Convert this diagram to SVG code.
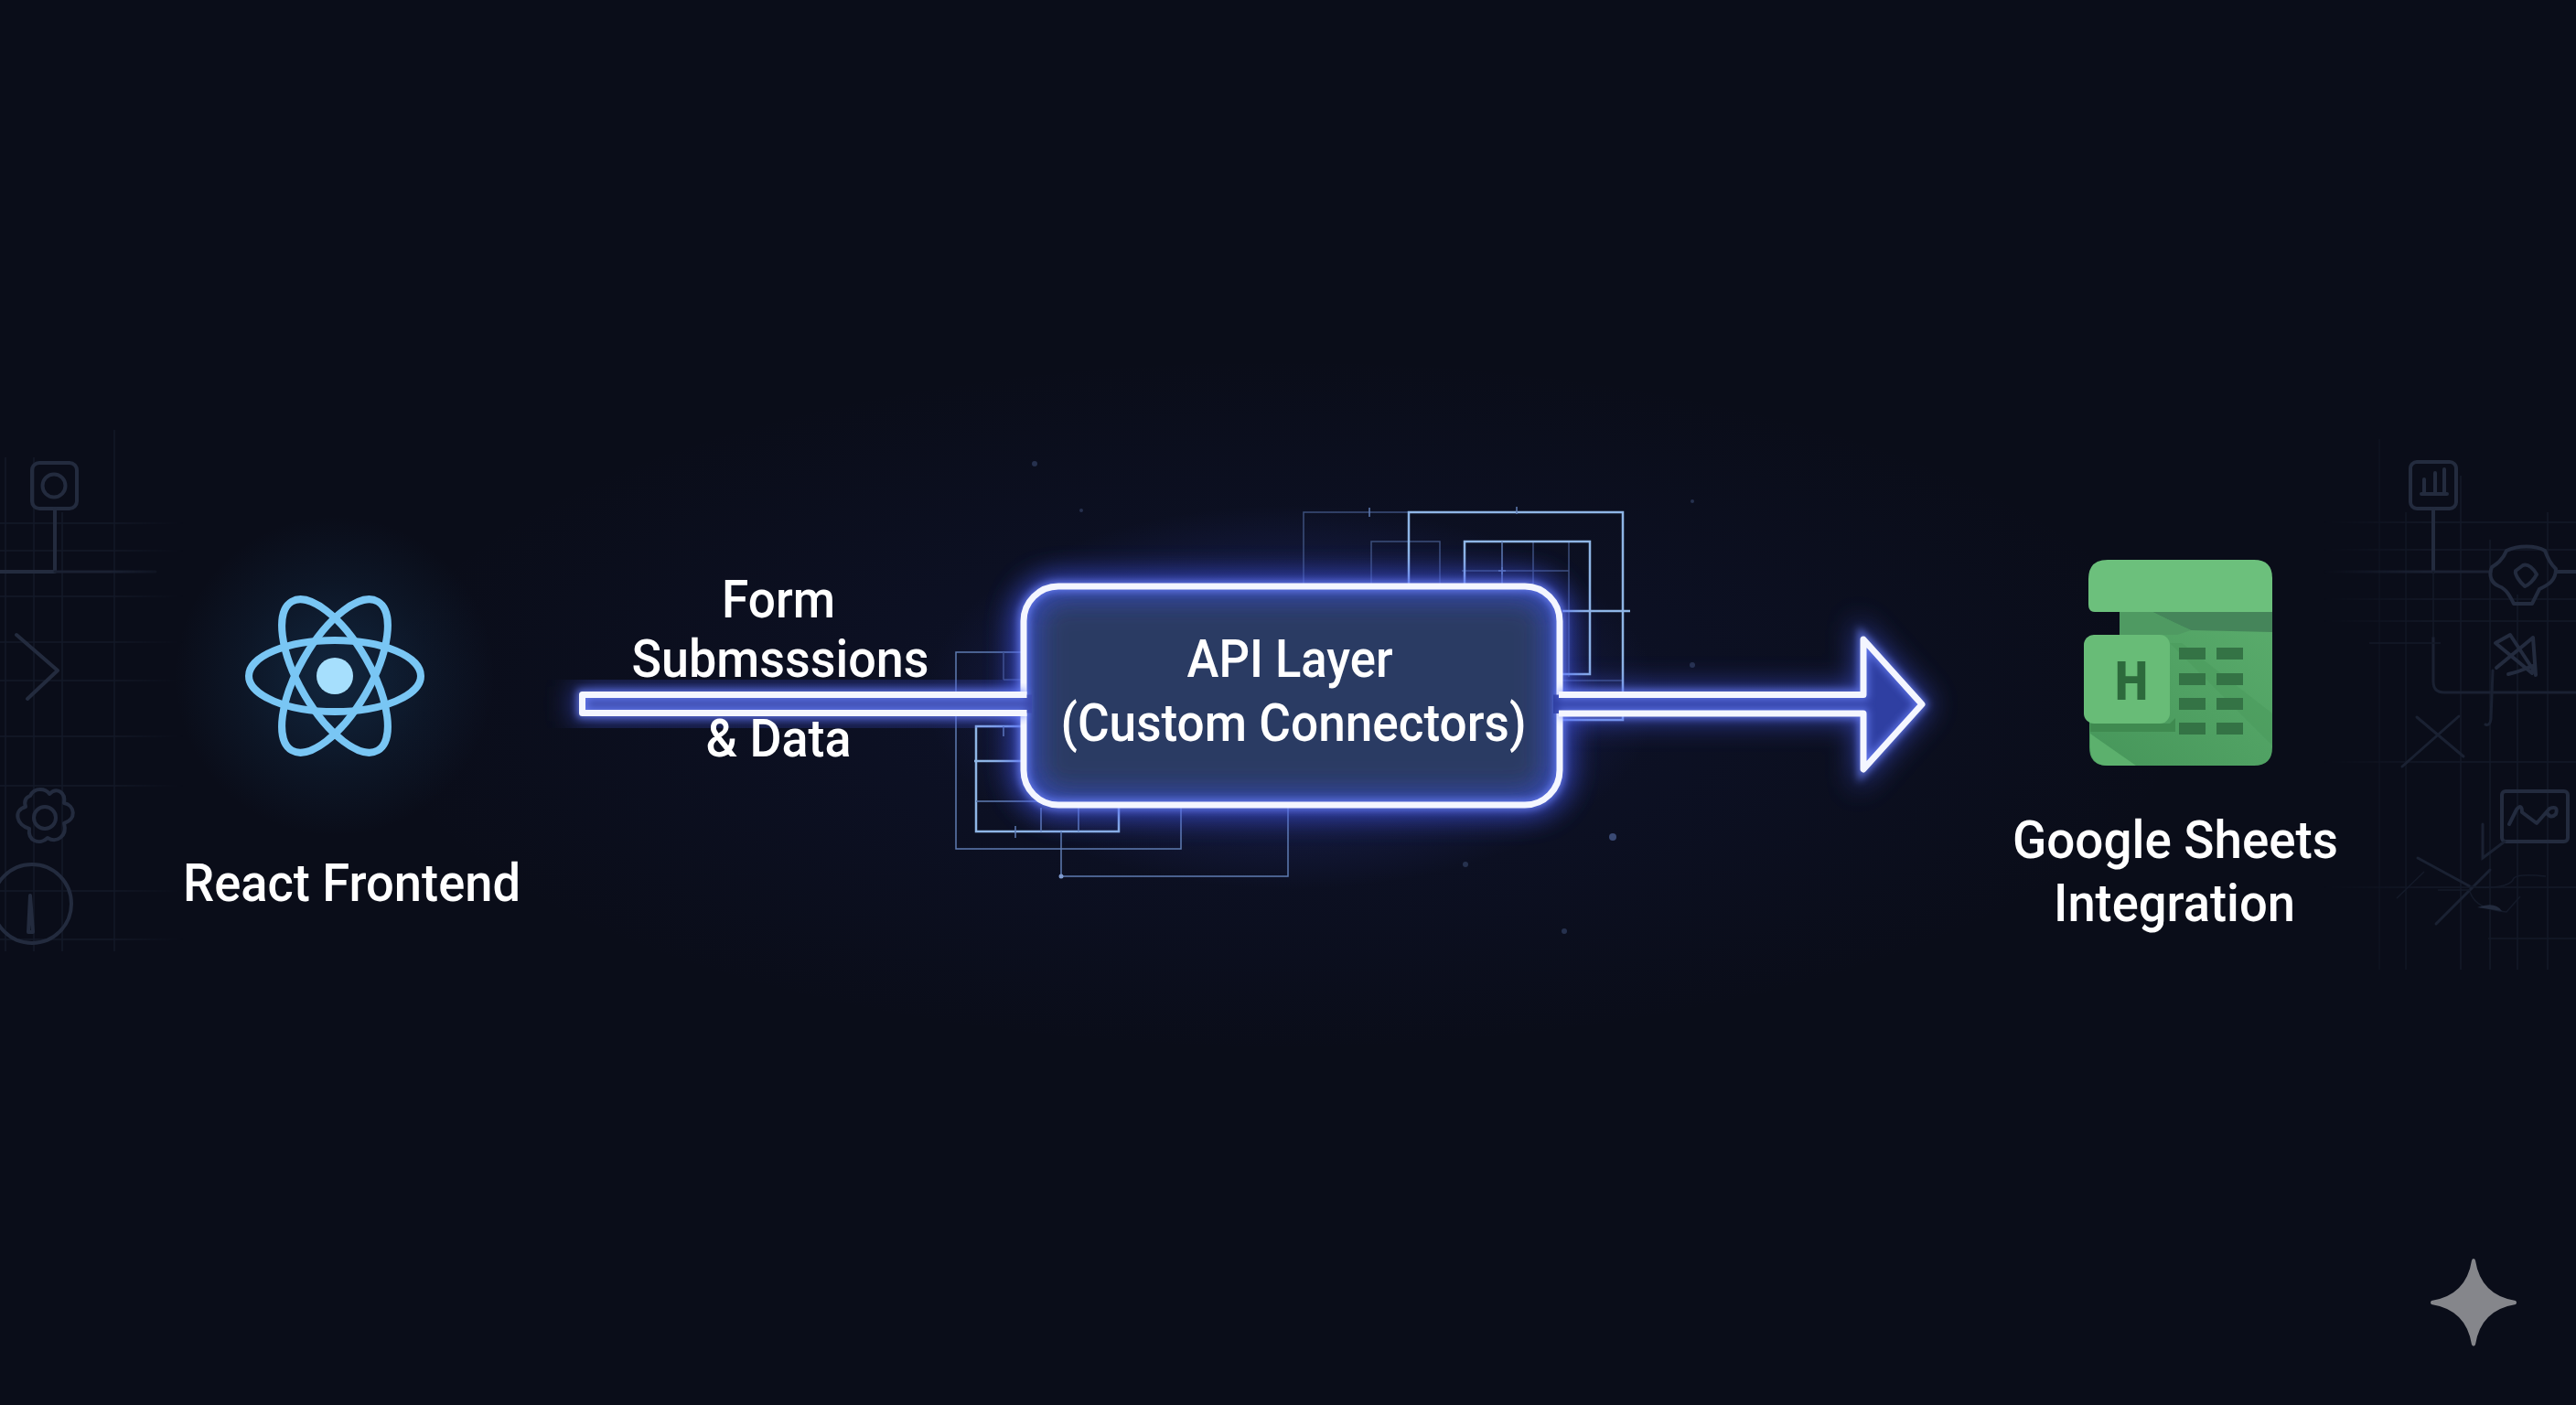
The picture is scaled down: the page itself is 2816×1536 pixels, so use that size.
<svg xmlns="http://www.w3.org/2000/svg" width="2816" height="1536" viewBox="0 0 2816 1536">
<style>
.lbl{font-family:Roboto,"Liberation Sans",sans-serif;font-size:58px;font-weight:500;fill:#fff;text-anchor:middle}
.bg{fill:none;stroke:#232b3e;stroke-width:4;stroke-linecap:round;stroke-linejoin:round}
.bgt{fill:none;stroke:#1a2132;stroke-width:3;stroke-linecap:round}
.grid{fill:none;stroke:#141a29;stroke-width:1.5}
.c1{fill:none;stroke:#8fb6e6;stroke-width:2.5}
.c2{fill:none;stroke:#5f7cb2;stroke-width:1.5}
.c3{fill:none;stroke:#3d4f7c;stroke-width:1.5}
.edge{fill:none;stroke:#f4f6ff;stroke-width:7;stroke-linejoin:round}
.react{fill:none;stroke:#79c6f4;stroke-width:8}
.cell{fill:#347345}
</style>
<defs>
<radialGradient id="gc"><stop offset="0" stop-color="#2a3cb0" stop-opacity=".12"/><stop offset="1" stop-color="#2a3cb0" stop-opacity="0"/></radialGradient>
<radialGradient id="gr"><stop offset="0" stop-color="#2b78b8" stop-opacity=".24"/><stop offset=".6" stop-color="#2b78b8" stop-opacity=".08"/><stop offset="1" stop-color="#2b78b8" stop-opacity="0"/></radialGradient>
<radialGradient id="gn"><stop offset="0" stop-color="#4a5cff" stop-opacity=".42"/><stop offset=".62" stop-color="#4a5cff" stop-opacity=".3"/><stop offset="1" stop-color="#4a5cff" stop-opacity="0"/></radialGradient>
<linearGradient id="body" x1="1" y1="0" x2="0" y2="1"><stop offset="0" stop-color="#5aac6c"/><stop offset="1" stop-color="#46965a"/></linearGradient>
<linearGradient id="fl" x1="0" y1="0" x2="1" y2="0"><stop offset="0" stop-color="#fff"/><stop offset=".6" stop-color="#fff"/><stop offset="1" stop-color="#000"/></linearGradient>
<linearGradient id="fr" x1="0" y1="0" x2="1" y2="0"><stop offset="0" stop-color="#000"/><stop offset=".4" stop-color="#fff"/><stop offset="1" stop-color="#fff"/></linearGradient>
<mask id="ml" maskUnits="userSpaceOnUse" x="0" y="460" width="200" height="620"><rect x="0" y="460" width="200" height="620" fill="url(#fl)"/></mask>
<mask id="mr" maskUnits="userSpaceOnUse" x="2540" y="460" width="276" height="620"><rect x="2540" y="460" width="276" height="620" fill="url(#fr)"/></mask>
<filter id="glow" x="-30%" y="-80%" width="160%" height="260%"><feGaussianBlur stdDeviation="15"/></filter>
<filter id="glow2" x="-30%" y="-60%" width="160%" height="220%"><feGaussianBlur stdDeviation="4"/></filter>
<filter id="inner" x="-10%" y="-20%" width="120%" height="140%"><feGaussianBlur stdDeviation="14"/></filter>
<path id="arrowR" d="M1704 759.500H2037V699L2101 770L2037 841V780H1704"/>
<clipPath id="nodeclip"><rect x="1119" y="641" width="586" height="239" rx="38"/></clipPath>
</defs>
<rect width="2816" height="1536" fill="#0a0d19"/>
<ellipse cx="1400" cy="770" rx="1000" ry="380" fill="url(#gc)"/>
<ellipse cx="1412" cy="762" rx="400" ry="210" fill="url(#gn)" opacity=".42"/>
<ellipse cx="366" cy="739" rx="175" ry="175" fill="url(#gr)"/>

<g id="left-decor">
<path class="grid" mask="url(#ml)" d="M6 500V1040M37 500V1040M68 560V1040M125 470V1040M0 572H200M0 602H200M0 652H200M0 702H200M0 744H200M0 805H200M0 859H200M0 974H200M0 1027H200"/>
<rect class="bg" x="35" y="506" width="49" height="50" rx="8"/>
<circle class="bg" cx="59" cy="531" r="12.500"/>
<path class="bg" d="M60 556V625H0"/>
<path class="bgt" mask="url(#ml)" d="M60 625H170"/>
<path class="bg" d="M18 694L63 733L30 764"/>
<path class="bg" d="M33 870C38 860 50 862 54 868C62 860 72 866 70 878C82 880 84 896 70 900C74 914 62 922 52 916C44 924 30 920 32 906C18 902 14 886 28 882C26 876 28 872 33 870Z"/>
<circle class="bg" cx="49" cy="894" r="12"/>
<ellipse class="bg" cx="35" cy="988" rx="43" ry="43"/>
<path class="bg" stroke-width="3" d="M33 979L31 1019H36Z"/>
</g>

<g id="right-decor">
<path class="grid" mask="url(#mr)" d="M2601 480V1060M2630 560V1060M2690 520V1060M2722 590V1060M2752 650V1060M2785 560V1060M2540 571H2816M2540 601H2816M2540 655H2816M2540 679H2816M2540 833H2816M2540 970H2816M2720 1026H2816"/>
<rect class="bg" x="2635" y="505" width="50" height="51" rx="7"/>
<path class="bg" stroke-width="3" d="M2647 540H2675M2650 538V524M2662 538V517M2672 538V513"/>
<path class="bg" d="M2660 556V625"/>
<path class="bgt" mask="url(#mr)" d="M2540 625H2723"/>
<path class="bg" d="M2794 625H2816"/>
<path class="bgt" d="M2660 697V745Q2660 757 2672 757H2816"/>
<path class="grid" d="M2660 625V697M2590 703H2668"/>
<path class="bg" d="M2740 602C2752 596 2772 596 2782 602C2786 612 2788 616 2794 622C2794 636 2784 640 2776 644C2772 652 2770 656 2768 660H2748C2744 652 2740 644 2732 641C2724 638 2720 630 2724 620C2730 616 2736 612 2740 602Z"/>
<path class="bg" d="M2758 618C2764 616 2770 622 2773 628C2770 634 2764 640 2760 641C2754 636 2749 628 2750 624Z"/>
<path class="bg" d="M2728 703L2744 694L2771 735M2728 703L2768 736M2769 697L2729 730M2769 697L2772 738M2742 737Q2752 735 2768 728"/>
<path class="bgt" d="M2725 733L2723 786Q2722 794 2717 792"/>
<path class="bgt" d="M2642 784L2693 827M2688 783L2626 838"/>
<rect class="bg" x="2735" y="865" width="72" height="55" rx="4"/>
<path class="bgt" d="M2738 920L2714 938V901"/>
<path class="bg" d="M2743 901L2751 885Q2757 878 2757 888L2773 900L2787 884Q2797 880 2794 890Q2788 896 2784 888"/>
<path class="bgt" stroke-width="2.500" d="M2643 938L2700 969M2722 951L2663 1010"/>
<path class="grid" stroke-width="2" d="M2650 953L2620 982M2700 969C2720 972 2745 970 2748 960C2752 956 2765 956 2783 958M2665 973H2700M2700 975C2705 990 2720 995 2740 997L2755 980"/>
<path d="M2708 992Q2728 985 2735 996Z" fill="#232b3e"/>
</g>

<g id="circuits">
<path class="c3" d="M1425 638V560H1540M1499 638V592H1574V638M1676 592V638M1715 592V740M1598 624H1715M1708 744H1774"/>
<path class="c1" d="M1540 638V560H1774V787H1708"/>
<path class="c1" d="M1601 638V592H1738V737H1708"/>
<path class="c2" d="M1642 592V638"/>
<path class="c1" d="M1708 668H1782"/>
<path class="c2" d="M1638 624H1646M1642 620V628M1497 555V565M1658 554V562"/>
<path class="c2" d="M1116 713H1045V928H1291V883"/>
<path class="c1" d="M1116 794H1067V909H1223V883"/>
<path class="c1" d="M1065 832H1116"/>
<path class="c2" d="M1067 876H1136M1138 883V909M1179 883V909M1160 909V958H1408V883M1097 794V805M1110 903V916"/>
<path class="c3" d="M1097 743V713M1097 743H1116"/>
<circle cx="1160" cy="958" r="2.500" fill="#7f9bd0"/>
</g>

<g id="dust" fill="#26314e">
<circle cx="1131" cy="507" r="3"/><circle cx="1850" cy="727" r="3"/><circle cx="1763" cy="915" r="4" fill="#3a4a74"/><circle cx="1602" cy="945" r="3"/><circle cx="1710" cy="1018" r="3"/><circle cx="1182" cy="558" r="2"/><circle cx="1850" cy="548" r="2"/>
</g>

<g id="connectors">
<path d="M636 759.500H1122V779.500H636Z" fill="#3d50e0" stroke="#4a5cf0" stroke-width="18" filter="url(#glow)" opacity=".6"/>
<use href="#arrowR" fill="#3d50e0" stroke="#4a5cf0" stroke-width="18" filter="url(#glow)" opacity=".6"/>
</g>

<g id="node-api">
<rect x="1119" y="641" width="586" height="239" rx="38" fill="none" stroke="#4458f0" stroke-width="24" filter="url(#glow)" opacity=".8"/>
<g clip-path="url(#nodeclip)">
<rect x="1119" y="641" width="586" height="239" fill="#3549ae"/>
<rect x="1136" y="656" width="552" height="209" rx="26" fill="#2b3a64" filter="url(#inner)"/>
</g>
<rect x="1119" y="641" width="586" height="239" rx="38" fill="none" stroke="#6f86ff" stroke-width="12" filter="url(#glow2)" opacity=".75"/>
<rect class="edge" x="1119" y="641" width="586" height="239" rx="38"/>
</g>

<g id="connector-shafts">
<path d="M636.500 759.500H1128V779.500H636.500Z" fill="#3a49aa"/>
<path d="M1122 759.500H636.500V779.500H1122" fill="none" stroke="#6f86ff" stroke-width="11" filter="url(#glow2)" opacity=".75"/>
<path class="edge" d="M1122.500 759.500H636.500V779.500H1122.500"/>
<path d="M1698 759.500H2037V699L2100 770L2037 841V780H1698Z" fill="#2f3fa2"/>
<use href="#arrowR" fill="none" stroke="#6f86ff" stroke-width="11" filter="url(#glow2)" opacity=".75"/>
<use href="#arrowR" class="edge"/>
</g>

<g id="node-react">
<ellipse class="react" cx="366" cy="739" rx="94" ry="39"/>
<ellipse class="react" cx="366" cy="739" rx="94" ry="39" transform="rotate(60 366 739)"/>
<ellipse class="react" cx="366" cy="739" rx="94" ry="39" transform="rotate(-60 366 739)"/>
<circle cx="366" cy="739" r="20" fill="#a6dffd"/>
<text class="lbl" x="384.500" y="985" textLength="369" lengthAdjust="spacingAndGlyphs">React Frontend</text>
</g>

<g id="label-form">
<text class="lbl" x="851" y="675" textLength="124" lengthAdjust="spacingAndGlyphs">Form</text>
<text class="lbl" x="853" y="740" textLength="325" lengthAdjust="spacingAndGlyphs">Submsssions</text>
<text class="lbl" x="851" y="827" textLength="159" lengthAdjust="spacingAndGlyphs">&amp; Data</text>
</g>

<g id="label-api">
<text class="lbl" x="1410" y="740" textLength="225" lengthAdjust="spacingAndGlyphs">API Layer</text>
<text class="lbl" x="1414" y="810" textLength="509" lengthAdjust="spacingAndGlyphs">(Custom Connectors)</text>
</g>

<g id="node-sheets">
<path d="M2317 669H2484V817Q2484 837 2464 837H2304Q2284 837 2284 817V780H2317Z" fill="url(#body)"/>
<path d="M2285 802V817Q2285 837 2304 837H2335Z" fill="#5cb06d"/>
<path d="M2285 791H2372L2378 785V800H2285Z" fill="#3f8a50"/>
<path d="M2372 703L2484 815V780L2385 703Z" fill="#4a9a5c" opacity=".5"/>
<path d="M2353 669H2484V691L2395 689Q2375 680 2353 669Z" fill="#45855a"/>
<path d="M2317 669H2353Q2375 680 2395 689L2380 694H2317Z" fill="#4f9a62"/>
<path d="M2304 612H2464Q2484 612 2484 632V669H2290Q2283 669 2283 661V633Q2283 612 2304 612Z" fill="#6cc07c"/>
<rect x="2278" y="694" width="94" height="97" rx="11" fill="#68bc77"/>
<text x="2330" y="765" font-family="Roboto,'Liberation Sans',sans-serif" font-size="59" font-weight="900" fill="#2d6a3c" text-anchor="middle" textLength="36" lengthAdjust="spacingAndGlyphs">H</text>
<rect class="cell" x="2382" y="708" width="29" height="13"/><rect class="cell" x="2423" y="708" width="29" height="13"/>
<rect class="cell" x="2382" y="736" width="29" height="13"/><rect class="cell" x="2423" y="736" width="29" height="13"/>
<rect class="cell" x="2382" y="763" width="29" height="13"/><rect class="cell" x="2423" y="763" width="29" height="13"/>
<rect class="cell" x="2382" y="790" width="29" height="13"/><rect class="cell" x="2423" y="790" width="29" height="13"/>
<text class="lbl" x="2378" y="938" textLength="356" lengthAdjust="spacingAndGlyphs">Google Sheets</text>
<text class="lbl" x="2377" y="1007" textLength="264" lengthAdjust="spacingAndGlyphs">Integration</text>
</g>

<path id="sparkle" d="M2704 1376Q2705.500 1376 2706 1378Q2712 1416 2750 1422Q2752 1424 2750 1426Q2712 1432 2706 1470Q2704 1473 2702 1470Q2696 1432 2658 1426Q2656 1424 2658 1422Q2696 1416 2702 1378Q2702.500 1376 2704 1376Z" fill="#85868b"/>
</svg>
